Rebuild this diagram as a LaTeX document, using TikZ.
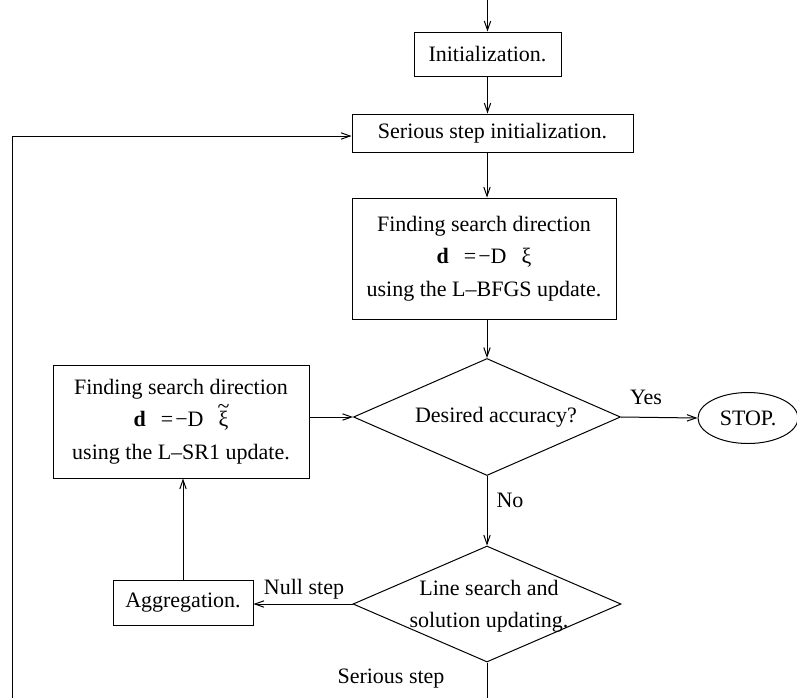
\documentclass[tikz,border=0pt]{standalone}
\usepackage{fontspec}
\setmainfont{Liberation Serif}
\usetikzlibrary{shapes.geometric,arrows.meta}
\newcommand{\xitil}{\ooalign{ξ\cr\hidewidth\smash{\raisebox{0.6em}{\~{}}}\hidewidth\cr}}
\begin{document}
\begin{tikzpicture}[x=0.5pt,y=-0.5pt,
  every node/.style={font=\fontsize{11}{16.25}\selectfont},
  box/.style={draw,rectangle,inner sep=0pt,line width=0.5pt,align=center},
  dec/.style={draw,diamond,inner sep=0pt,line width=0.5pt},
  txt/.style={inner sep=0pt,align=center},
  arr/.style={line width=0.5pt,-{Straight Barb[length=4.5pt,width=3.2pt]}}]
\useasboundingbox (0,0) rectangle (797,697);
\clip (0,0) rectangle (797,697);
% nodes
\node[box,minimum width=73.5pt,minimum height=22pt] (init) at (487.5,54) {Initialization.};
\node[box,minimum width=140.5pt,minimum height=19pt] (ssi) at (492.5,133) {Serious step initialization.};
\node[box,minimum width=132pt,minimum height=60.5pt] (fsd1) at (484,258.5)
  {Finding search direction\\ \textbf{d}\hspace{7.5pt}=\hspace{1pt}−D\hspace{7.5pt}ξ\\using the L–BFGS update.};
\node[dec,minimum width=133.5pt,minimum height=58.5pt] (dia1) at (487,417) {};
\node[txt] (t1) at (496,417) {Desired accuracy?};
\node[draw,ellipse,inner sep=0pt,minimum width=50pt,minimum height=25.5pt,line width=0.5pt] (stop) at (748,418) {STOP.};
\node[box,minimum width=128pt,minimum height=56.5pt] (fsd2) at (181,421.5)
  {Finding search direction\\ \textbf{d}\hspace{7.5pt}=\hspace{1pt}−D\hspace{7.5pt}\xitil\\using the L–SR1 update.};
\node[dec,minimum width=134pt,minimum height=58pt] (dia2) at (487,604) {};
\node[txt] (t2) at (489,606) {Line search and\\solution updating.};
\node[box,minimum width=70pt,minimum height=22.5pt] (agg) at (183,602.5) {Aggregation.};
% labels
\node[txt] (yes) at (646,397) {Yes};
\node[txt] (no) at (510,500) {No};
\node[txt] (null) at (304,589) {Null step};
\node[txt] (ser) at (391,679) {Serious step};
% connectors
\coordinate (topin) at (0,-10);
\coordinate (lb) at (487,730);
\coordinate (ll) at (12,730);
\coordinate (lt) at (12,136);
\draw[arr] (init.north |- topin) -- (init.north);
\draw[arr] (init.south) -- (init.south |- ssi.north);
\draw[arr] (ssi.south -| dia1.north) -- (fsd1.north -| dia1.north);
\draw[arr] (fsd1.south -| dia1.north) -- (dia1.north);
\draw[arr] (dia1.east) -- (stop.west);
\draw[arr] (fsd2.east |- dia1.west) -- (dia1.west);
\draw[arr] (dia1.south) -- (dia2.north);
\draw[arr] (dia2.west) -- (agg.east |- dia2.west);
\draw[arr] (agg.north) -- (agg.north |- fsd2.south);
\draw[arr] (dia2.south) -- (lb) -- (ll) -- (lt) -- (ssi.west |- lt);
\end{tikzpicture}
\end{document}
